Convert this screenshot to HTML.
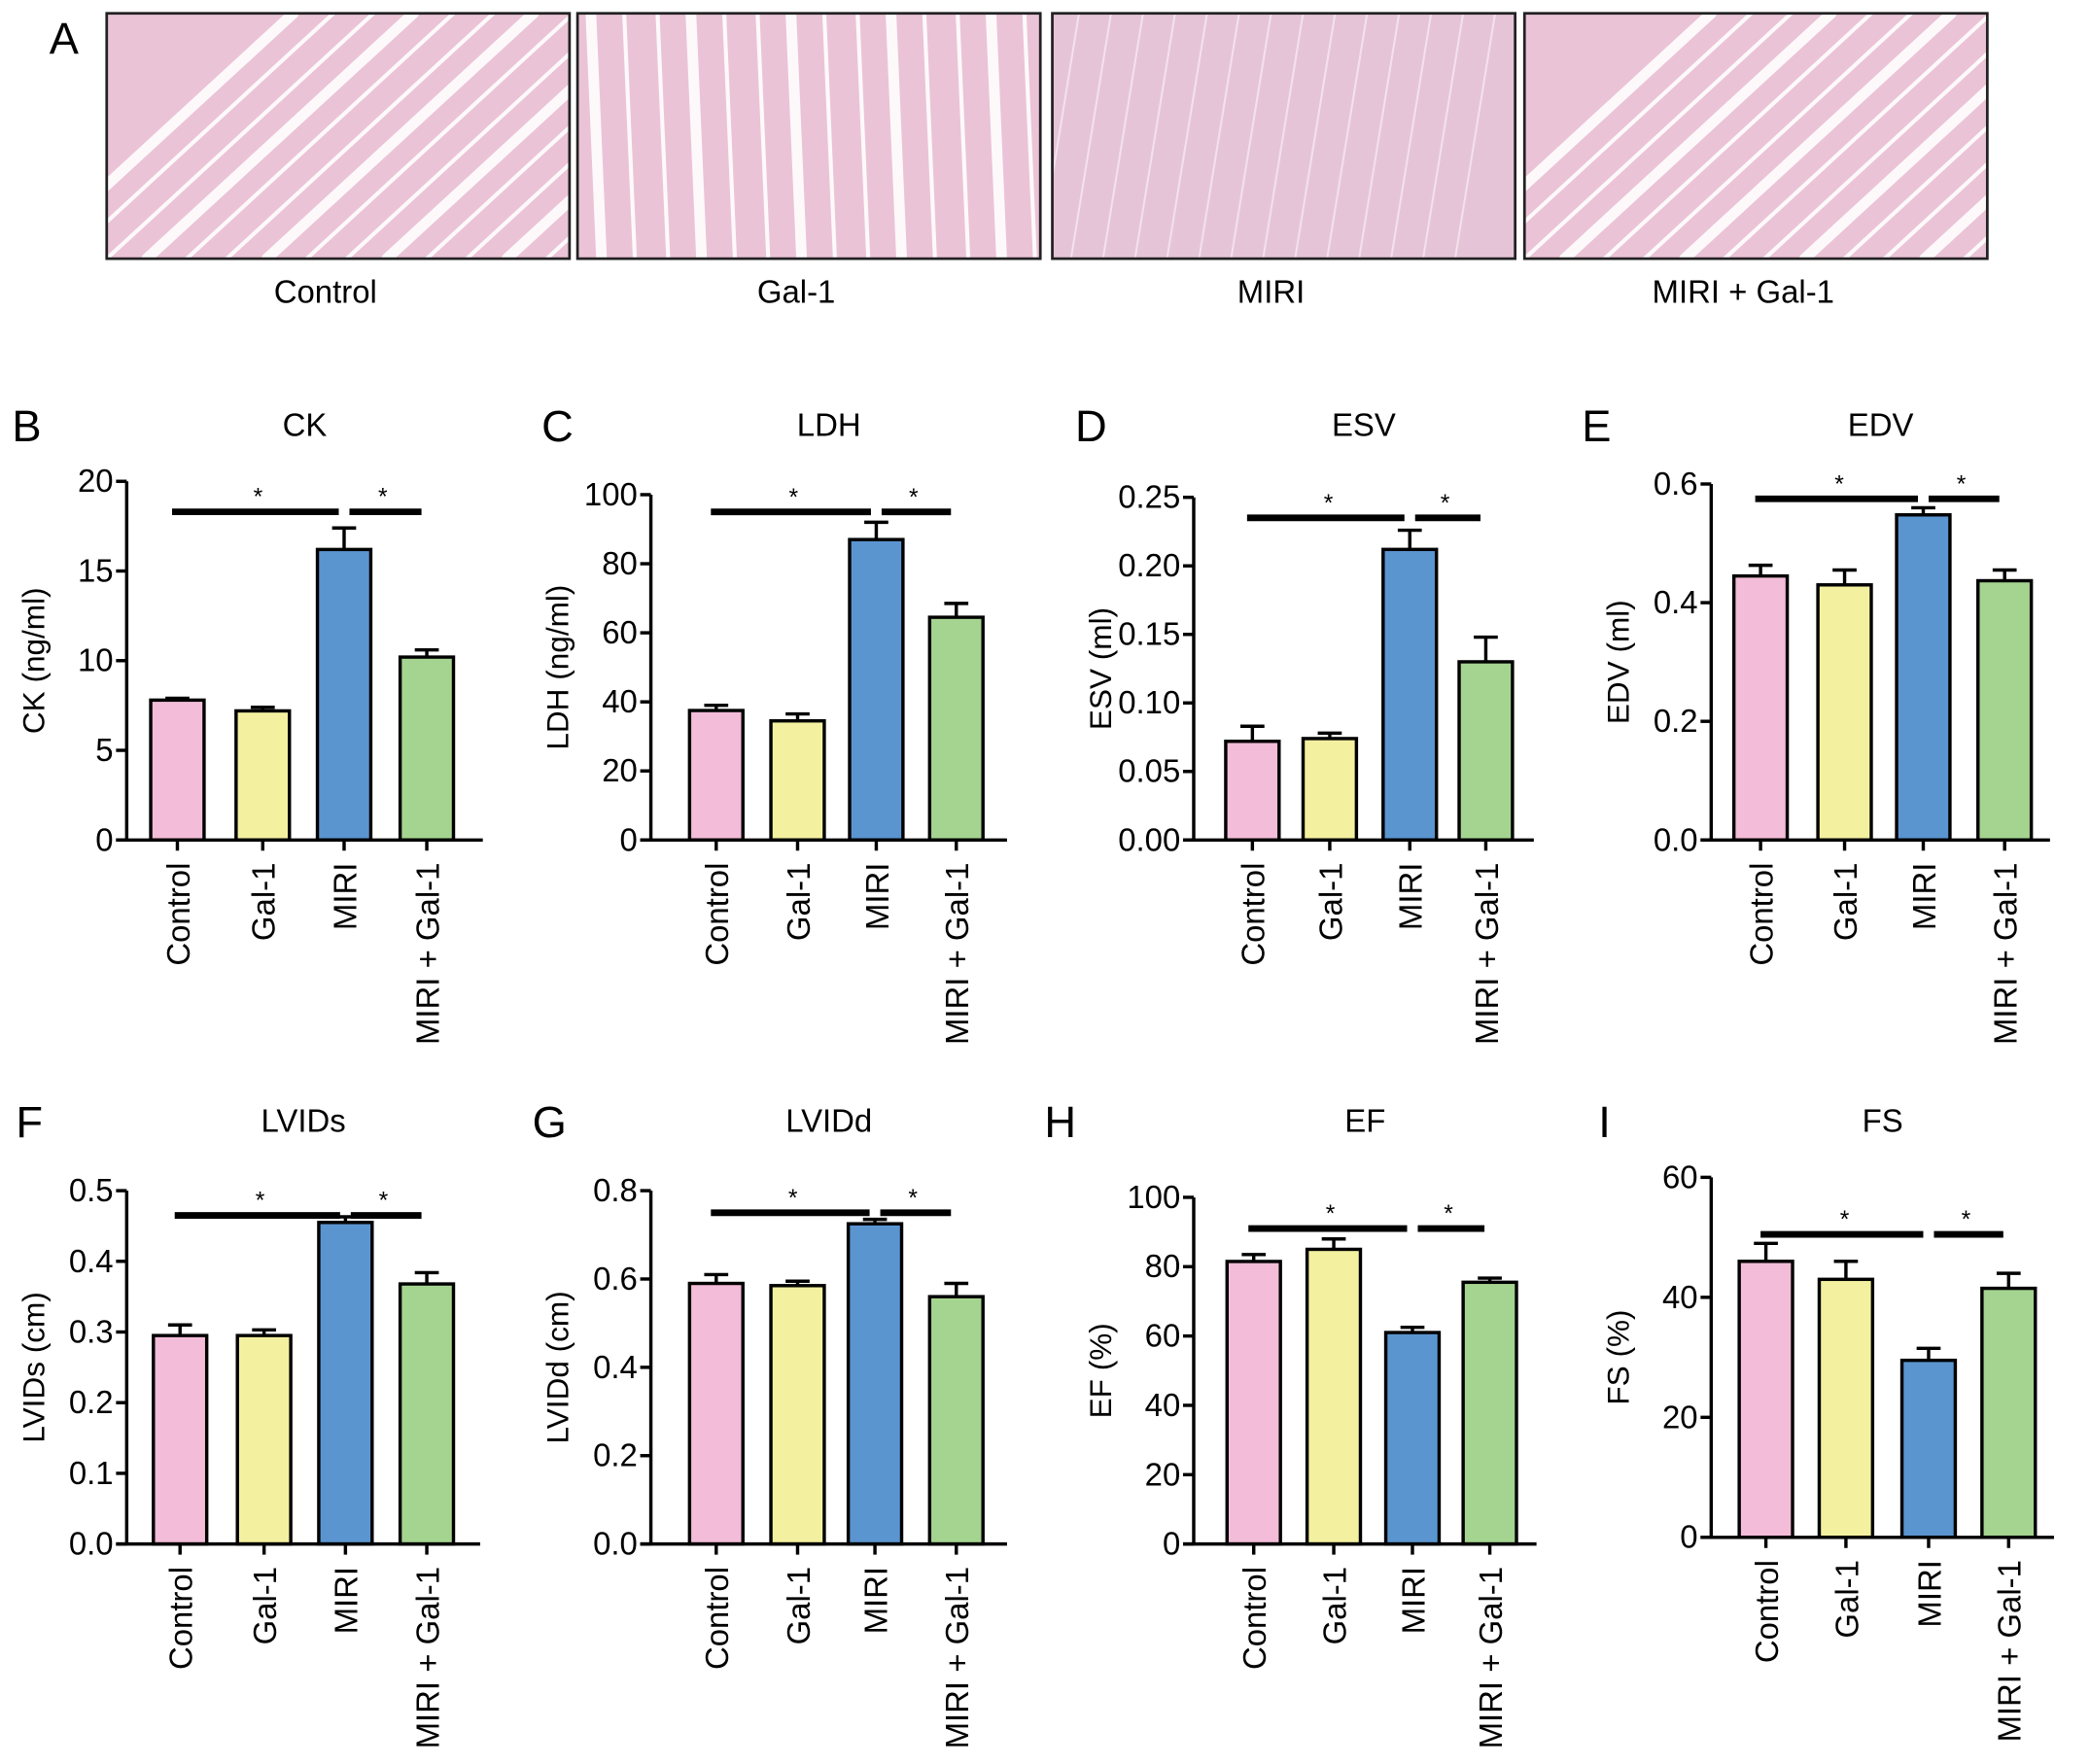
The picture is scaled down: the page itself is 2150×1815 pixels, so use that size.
<!DOCTYPE html>
<html><head><meta charset="utf-8">
<style>
html,body{margin:0;padding:0;background:#fff;}
svg{display:block;font-family:"Liberation Sans",Arial,sans-serif;}
</style></head>
<body>
<svg id="fig" width="2150" height="1815" viewBox="0 0 1567 1323" preserveAspectRatio="none" xmlns="http://www.w3.org/2000/svg">
<rect width="1567" height="1323" fill="#fff"/>
<text x="48" y="40" font-size="33" text-anchor="middle">A</text>
<g id="histo"></g>
<g id="charts"></g>
</svg>
<script>
const categories = ["Control","Gal-1","MIRI","MIRI + Gal-1"];
const colors = ["#f3bcd8","#f3f0a0","#5b95d0","#a5d490"];
// chart values
const ckValues = [7.8,7.2,16.2,10.2];
const ckErrors = [0.1,0.2,1.2,0.4];
const ckTicks = ["0","5","10","15","20"];
const ldhValues = [37.5,34.5,87,64.5];
const ldhErrors = [1.5,2,5,4];
const ldhTicks = ["0","20","40","60","80","100"];
const esvValues = [0.072,0.074,0.212,0.130];
const esvErrors = [0.011,0.004,0.014,0.018];
const esvTicks = ["0.00","0.05","0.10","0.15","0.20","0.25"];
const edvValues = [0.445,0.430,0.548,0.437];
const edvErrors = [0.018,0.025,0.012,0.018];
const edvTicks = ["0.0","0.2","0.4","0.6"];
const lvidsValues = [0.295,0.295,0.455,0.368];
const lvidsErrors = [0.015,0.008,0.008,0.016];
const lvidsTicks = ["0.0","0.1","0.2","0.3","0.4","0.5"];
const lviddValues = [0.590,0.585,0.725,0.560];
const lviddErrors = [0.020,0.010,0.010,0.030];
const lviddTicks = ["0.0","0.2","0.4","0.6","0.8"];
const efValues = [81.5,85,61,75.5];
const efErrors = [2,3,1.5,1.2];
const efTicks = ["0","20","40","60","80","100"];
const fsValues = [46,43,29.5,41.5];
const fsErrors = [3,3,2,2.5];
const fsTicks = ["0","20","40","60"];
const sigLevels = [18.3,95,0.235,0.575,0.465,0.75,91,50.5];

const NS="http://www.w3.org/2000/svg";
function mk(tag,attrs,parent){const e=document.createElementNS(NS,tag);for(const k in attrs)e.setAttribute(k,attrs[k]);parent.appendChild(e);return e;}

// histology panels
const histo=document.getElementById('histo');
const hx=[80,433,789,1143];
for(let i=0;i<4;i++){
  const g=mk('g',{},histo);
  
  
  mk('rect',{x:hx[i],y:10,width:347,height:184,fill:i==2?'#e6c4d8':'#ebc3d6'},g);
  const cp='clip'+i;
  const cl=mk('clipPath',{id:cp},g);mk('rect',{x:hx[i],y:10,width:347,height:184},cl);
  const lg=mk('g',{'clip-path':'url(#'+cp+')',stroke:'#fff','stroke-linecap':'round'},g);
  for(let k=0;k<14;k++){
    let x1,y1,x2,y2;
    if(i==1){x1=hx[i]+10+k*25;y1=10;x2=x1+8;y2=194;}
    else if(i==2){x1=hx[i]+20+k*24;y1=10;x2=x1-30;y2=194;}
    else {x1=hx[i]+k*30-60;y1=194;x2=x1+200;y2=10;}
    mk('line',{x1:x1,y1:y1,x2:x2,y2:y2,'stroke-width':i==2?1.5:(k%3==0?8:3),opacity:i==2?0.5:0.9},lg);
  }
  mk('rect',{x:hx[i],y:10,width:347,height:184,fill:'none',stroke:'#222','stroke-width':2},g);
  const t=mk('text',{x:hx[i]+164,y:227,'font-size':24,'text-anchor':'middle'},g);
  t.textContent=categories[i];
  
  
}

const charts=[
 {id:'ck',letter:'B',lx:20,row:0,title:'CK',ylab:'CK (ng/ml)',ax:95,top:361,bot:630,end:362,max:20,vals:ckValues,errs:ckErrors,ticks:ckTicks,xs:[133,197,258,320]},
 {id:'ldh',letter:'C',lx:418,row:0,title:'LDH',ylab:'LDH (ng/ml)',ax:488,top:371,bot:630,end:755,max:100,vals:ldhValues,errs:ldhErrors,ticks:ldhTicks,xs:[537,598,657,717]},
 {id:'esv',letter:'D',lx:818,row:0,title:'ESV',ylab:'ESV (ml)',ax:895,top:373,bot:630,end:1150,max:0.25,vals:esvValues,errs:esvErrors,ticks:esvTicks,xs:[939,997,1057,1114]},
 {id:'edv',letter:'E',lx:1197,row:0,title:'EDV',ylab:'EDV (ml)',ax:1283,top:363,bot:630,end:1537,max:0.6,vals:edvValues,errs:edvErrors,ticks:edvTicks,xs:[1320,1383,1442,1503]},
 {id:'lvids',letter:'F',lx:22,row:1,title:'LVIDs',ylab:'LVIDs (cm)',ax:95,top:893,bot:1158,end:360,max:0.5,vals:lvidsValues,errs:lvidsErrors,ticks:lvidsTicks,xs:[135,198,259,320]},
 {id:'lvidd',letter:'G',lx:412,row:1,title:'LVIDd',ylab:'LVIDd (cm)',ax:488,top:893,bot:1158,end:755,max:0.8,vals:lviddValues,errs:lviddErrors,ticks:lviddTicks,xs:[537,598,656,717]},
 {id:'ef',letter:'H',lx:795,row:1,title:'EF',ylab:'EF (%)',ax:895,top:898,bot:1158,end:1152,max:100,vals:efValues,errs:efErrors,ticks:efTicks,xs:[940,1000,1059,1117]},
 {id:'fs',letter:'I',lx:1203,row:1,title:'FS',ylab:'FS (%)',ax:1283,top:883,bot:1153,end:1540,max:60,vals:fsValues,errs:fsErrors,ticks:fsTicks,xs:[1324,1384,1446,1506]}
];
const titleY=[327,849];
const root=document.getElementById('charts');
charts.forEach((c,ci)=>{
  const g=mk('g',{},root);
  
  
  const y=v=>c.bot-(v/c.max)*(c.bot-c.top);
  const ty=titleY[c.row];
  const L=mk('text',{x:c.lx,y:ty+4,'font-size':33,'text-anchor':'middle'},g);L.textContent=c.letter;
  
  
  const T=mk('text',{x:(c.ax+c.end)/2,y:ty,'font-size':24,'text-anchor':'middle'},g);T.textContent=c.title;
  
  
  const Y=mk('text',{x:0,y:0,'font-size':23,'text-anchor':'middle',transform:`translate(${c.ax-62},${(c.top+c.bot)/2}) rotate(-90)`},g);Y.textContent=c.ylab;
  
  
  c.vals.forEach((v,i)=>{
    const bw=40,x=c.xs[i];
    const e=y(v+c.errs[i]);
    mk('line',{x1:x,x2:x,y1:y(v),y2:e,stroke:'#000','stroke-width':2.5},g);
    mk('line',{x1:x-9,x2:x+9,y1:e,y2:e,stroke:'#000','stroke-width':2.5},g);
    const r=mk('rect',{x:x-bw/2,y:y(v),width:bw,height:c.bot-y(v),fill:colors[i],stroke:'#000','stroke-width':2.5},g);
    
    
    mk('line',{x1:x,x2:x,y1:c.bot,y2:c.bot+8,stroke:'#000','stroke-width':2.5},g);
    const lbl=mk('text',{x:0,y:0,'font-size':24,'text-anchor':'end',transform:`translate(${x+9},${c.bot+17}) rotate(-90)`},g);
    lbl.textContent=categories[i];
    
    
  });
  mk('line',{x1:c.ax,x2:c.ax,y1:c.top,y2:c.bot,stroke:'#000','stroke-width':2.5},g);
  mk('line',{x1:c.ax-8,x2:c.end,y1:c.bot,y2:c.bot,stroke:'#000','stroke-width':2.5},g);
  c.ticks.forEach((t,k)=>{
    const v=c.max*k/(c.ticks.length-1);
    mk('line',{x1:c.ax-8,x2:c.ax,y1:y(v),y2:y(v),stroke:'#000','stroke-width':2.5},g);
    const tt=mk('text',{x:c.ax-10,y:y(v)+8,'font-size':24,'text-anchor':'end'},g);tt.textContent=t;
    
    
  });
  const sy=y(sigLevels[ci]);
  const x0=c.xs[0]-4,x2=c.xs[2],x3=c.xs[3]-4;
  const s1=mk('line',{x1:x0,x2:x2-4,y1:sy,y2:sy,stroke:'#000','stroke-width':5},g);
  
  
  const s2=mk('line',{x1:x2+4,x2:x3,y1:sy,y2:sy,stroke:'#000','stroke-width':5},g);
  
  
  [(x0+x2)/2,(x2+x3)/2].forEach(px=>{
    const st=mk('text',{x:px,y:sy-5,'font-size':18,'text-anchor':'middle'},g);st.textContent='*';
    
    
  });
});
</script>
</body></html>
